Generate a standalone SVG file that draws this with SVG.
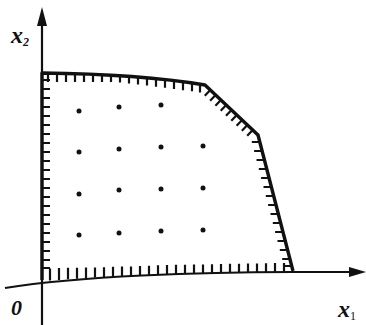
<svg xmlns="http://www.w3.org/2000/svg" width="366" height="325" viewBox="0 0 366 325">
<style>
.axis{fill:none;stroke:#111;stroke-width:2.2}
.bnd{fill:none;stroke:#111;stroke-width:3.4;stroke-linejoin:round}
.hatch{fill:none;stroke:#111;stroke-width:2.2}
.dot{fill:#111}
.lbl{font-family:"Liberation Serif","DejaVu Serif",serif;font-style:italic;font-weight:bold;fill:#111}
</style>
<rect width="366" height="325" fill="#fff"/>
<g id="connectors">
<path class="axis" d="M42 24 V325"/>
<polygon points="42,7 37,26 47,26" fill="#111"/>
<path class="axis" d="M5 288 C80 276 200 272 293 272 L350 272"/>
<polygon points="366,272 349,267 349,277" fill="#111"/>
</g>
<g id="region">
<path class="bnd" d="M42 280 V73 Q140 74 205 85 L258 135 L293 271"/>
<path class="hatch" d="M48 74v8M57 74v8M66 74v8M75 74v8M84 74v8M93 74v8M102 74v8M111 74v8M120 74.5v8M129 75.5v8M138 76.5v8M147 77.5v8M156 78.7v8M165 79.8v8M174 81v8M183 82.2v8M192 83.3v8M200 84.4v8
M210.3 90l-5.5 5.8M215.6 95l-5.5 5.8M220.9 100l-5.5 5.8M226.2 105l-5.5 5.8M231.5 110l-5.5 5.8M236.8 115l-5.5 5.8M242.1 120l-5.5 5.8M247.4 125l-5.5 5.8M252.7 130l-5.5 5.8
M259.8 142h-8M262.1 151h-8M264.5 160h-8M266.8 169h-8M269.1 178h-8M271.5 187h-8M273.8 196h-8M276.1 205h-8M278.5 214h-8M280.8 223h-8M283.1 232h-8M285.5 241h-8M287.8 250h-8M290.2 259h-8M292 266h-8
M42 80h8M42 89h8M42 98h8M42 107h8M42 116h8M42 125h8M42 134h8M42 143h8M42 152h8M42 161h8M42 170h8M42 179h8M42 188h8M42 197h8M42 206h8M42 215h8M42 224h8M42 233h8M42 242h8M42 251h8M42 260h8M42 268h8
M50 280.5v-12M59 280v-12M68 279.3v-11.5M77 278.7v-11M86 278.1v-10.5M95 277.6v-10M104 277.3v-10M113 276.8v-10M122 276.4v-10M131 275.9v-9.5M140 275.5v-9.5M149 275.2v-9.5M158 274.8v-9.5M167 274.5v-9.5M176 274.2v-9.5M185 273.8v-9M194 273.6v-9M203 273.4v-9M212 273.2v-9M221 273v-9M230 272.8v-9M239 272.7v-9M248 272.5v-9M257 272.4v-9M266 272.2v-9M275 272.1v-9M284 272v-9"/>
</g>
<g id="points">
<circle class="dot" cx="79" cy="111" r="2.5"/>
<circle class="dot" cx="119" cy="107" r="2.5"/>
<circle class="dot" cx="161" cy="105" r="2.5"/>
<circle class="dot" cx="79" cy="152" r="2.5"/>
<circle class="dot" cx="119" cy="149" r="2.5"/>
<circle class="dot" cx="161" cy="147" r="2.5"/>
<circle class="dot" cx="203" cy="146" r="2.5"/>
<circle class="dot" cx="79" cy="194" r="2.5"/>
<circle class="dot" cx="119" cy="190" r="2.5"/>
<circle class="dot" cx="161" cy="189" r="2.5"/>
<circle class="dot" cx="203" cy="188" r="2.5"/>
<circle class="dot" cx="79" cy="235" r="2.5"/>
<circle class="dot" cx="119" cy="233" r="2.5"/>
<circle class="dot" cx="161" cy="231" r="2.5"/>
<circle class="dot" cx="203" cy="230" r="2.5"/>
</g>
<g id="labels">
<text class="lbl" x="11" y="43" font-size="24">x<tspan font-size="12" dy="3">2</tspan></text>
<text class="lbl" x="338" y="317" font-size="24">x<tspan font-size="12" dy="3" font-style="normal" font-weight="normal">1</tspan></text>
<text class="lbl" x="11" y="315" font-size="22">0</text>
</g>
</svg>
